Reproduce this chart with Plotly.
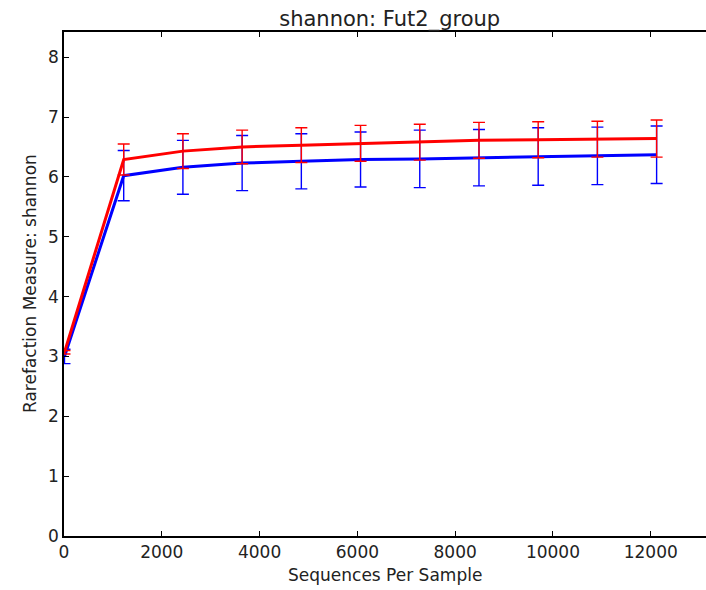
import plotly.graph_objects as go

seqs = [10, 1221, 2432, 3643, 4854, 6065, 7276, 8487, 9698, 10909, 12120]

red_mean = [3.07, 6.29, 6.43, 6.50, 6.53, 6.56, 6.58, 6.61, 6.62, 6.63, 6.64]
red_err = [0.03, 0.26, 0.29, 0.28, 0.29, 0.30, 0.30, 0.30, 0.30, 0.30, 0.31]

blue_mean = [3.00, 6.02, 6.16, 6.23, 6.26, 6.29, 6.30, 6.32, 6.34, 6.35, 6.37]
blue_err = [0.12, 0.42, 0.45, 0.46, 0.46, 0.46, 0.48, 0.47, 0.48, 0.48, 0.48]

x_ticks = [0, 2000, 4000, 6000, 8000, 10000, 12000]
x_labels = ["0", "2000", "4000", "6000", "8000", "10000", "12000"]
y_ticks = [0, 1, 2, 3, 4, 5, 6, 7, 8]

fig = go.Figure()
fig.add_trace(go.Scatter(
    x=seqs, y=blue_mean, mode="lines",
    line=dict(color="#0000ff", width=3),
    error_y=dict(type="data", array=blue_err, visible=True, color="#0000ff", thickness=1.4, width=6),
    showlegend=False,
))
fig.add_trace(go.Scatter(
    x=seqs, y=red_mean, mode="lines",
    line=dict(color="#ff0000", width=3),
    error_y=dict(type="data", array=red_err, visible=True, color="#ff0000", thickness=1.4, width=6),
    showlegend=False,
))

font_family = "DejaVu Sans"
txt = "#222222"
fig.update_layout(
    width=706, height=590,
    margin=dict(l=64, r=0, t=32, b=54),
    paper_bgcolor="white", plot_bgcolor="white",
    font=dict(family=font_family, size=17, color=txt),
    title=dict(text="shannon: Fut2_group", x=0.552, xanchor="center", y=0.969, yanchor="middle",
               font=dict(size=21, color=txt)),
    annotations=[
        dict(text="Sequences Per Sample", xref="paper", yref="paper", x=0.5, y=0,
             xanchor="center", yanchor="middle", yshift=-39, showarrow=False,
             font=dict(size=17, color=txt)),
        dict(text="Rarefaction Measure: shannon", xref="paper", yref="paper", x=0, y=0.5,
             xanchor="center", yanchor="middle", xshift=-34, textangle=-90, showarrow=False,
             font=dict(size=17, color=txt)),
    ],
)
fig.update_xaxes(
    range=[0, 13130], tickvals=x_ticks, ticktext=x_labels, automargin=False,
    ticks="inside", ticklen=5, tickcolor="black", showgrid=False, zeroline=False,
    showline=True, linecolor="black", linewidth=1.5, mirror="ticks",
    tickfont=dict(size=17, color=txt),
)
fig.update_yaxes(
    range=[0, 8.42], tickvals=y_ticks, automargin=False,
    ticks="inside", ticklen=5, tickcolor="black", showgrid=False, zeroline=False,
    showline=True, linecolor="black", linewidth=1.5, mirror=False,
    tickfont=dict(size=17, color=txt),
)

fig.write_html("out.html", config={"displayModeBar": False},
               post_script="document.body.style.margin='0';")
